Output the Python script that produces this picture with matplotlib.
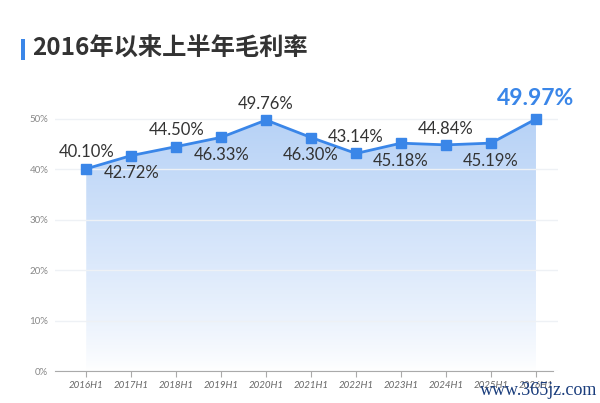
import numpy as np
import matplotlib
matplotlib.use("Agg")
import matplotlib.pyplot as plt
from matplotlib.colors import LinearSegmentedColormap
from matplotlib.patches import Polygon, Rectangle

plt.rcParams["font.family"] = ["Lato", "Noto Sans CJK SC", "DejaVu Sans"]

periods = ["2016H1", "2017H1", "2018H1", "2019H1", "2020H1", "2021H1",
           "2022H1", "2023H1", "2024H1", "2025H1", "2026H1"]
margins = [40.10, 42.72, 44.50, 46.33, 49.76, 46.30, 43.14, 45.18, 44.84, 45.19, 49.97]
label_above = [True, False, True, False, True, False, True, False, True, False, True]
yticks = [0, 10, 20, 30, 40, 50]

blue = "#3a86e8"
fig = plt.figure(figsize=(6, 4.03), dpi=100, facecolor="white")
ax = fig.add_axes([0.092, 0.079, 0.838, 0.705])
x = np.arange(len(periods))
ax.set_xlim(-0.69, 10.49)
ax.set_ylim(0, 56.3)

# gradient fill under the line
cmap = LinearSegmentedColormap.from_list("g", ["#ffffff", "#dce9fb", "#b7d2f6"])
grad = np.linspace(0, 1, 256).reshape(-1, 1) ** 0.8
im = ax.imshow(grad, cmap=cmap, origin="lower", aspect="auto",
               extent=[x[0], x[-1], 0, 50], zorder=1)
poly = Polygon(np.column_stack([np.r_[x[0], x, x[-1]], np.r_[0, margins, 0]]),
               closed=True, transform=ax.transData, facecolor="none", edgecolor="none")
ax.add_patch(poly)
im.set_clip_path(poly)

ax.plot(x, margins, color=blue, lw=2, marker="s", markersize=6.5, zorder=3)

for i, (v, up) in enumerate(zip(margins, label_above)):
    if i == len(margins) - 1:
        ax.annotate(f"{v:.2f}%", (x[i], v), xytext=(0, 7), textcoords="offset points",
                    ha="center", va="bottom", fontsize=16.5, fontweight="bold", color=blue)
    else:
        ax.annotate(f"{v:.2f}%", (x[i], v), xytext=(0, 6 if up else -7),
                    textcoords="offset points", ha="center",
                    va="bottom" if up else "top", fontsize=12, color="#333333")

ax.set_yticks(yticks)
ax.set_yticklabels([f"{t}%" for t in yticks], fontsize=7, color="#888888")
ax.set_xticks(x)
ax.set_xticklabels(periods, fontsize=7, color="#666666", style="italic")
ax.grid(axis="y", color="#eef1f5", lw=1, zorder=0)
for s in ["top", "right", "left"]:
    ax.spines[s].set_visible(False)
ax.spines["bottom"].set_color("#aaaaaa")
ax.spines["bottom"].set_bounds(-0.69, 10.38)
ax.tick_params(axis="y", length=0, pad=5)
ax.tick_params(axis="x", length=4, color="#aaaaaa", pad=3)

# title with accent bar
fig.patches.append(Rectangle((0.035, 0.851), 0.006, 0.052, transform=fig.transFigure,
                             facecolor=blue, edgecolor="none"))
fig.text(0.053, 0.878, "2016年以来上半年毛利率", fontsize=17.5, fontweight="bold",
         color="#333333", va="center", family=["Noto Sans CJK SC", "DejaVu Sans"])

fig.text(0.995, 0.01, "www.365jz.com", fontsize=13, color="#1a3d7c",
         ha="right", va="bottom", family=["Liberation Serif", "DejaVu Serif"])

plt.savefig("out.png", dpi=100, facecolor="white")
